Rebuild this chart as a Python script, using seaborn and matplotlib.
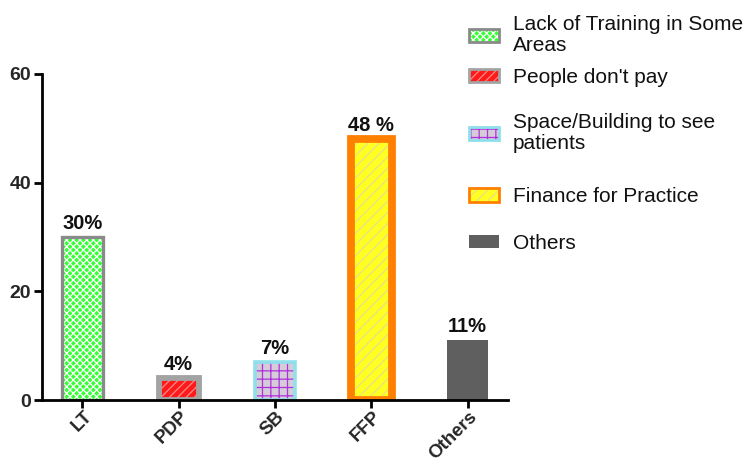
import matplotlib
matplotlib.use("Agg")
import matplotlib.pyplot as plt
from matplotlib.patches import Patch
from matplotlib.transforms import ScaledTranslation
import seaborn as sns
import pandas as pd

# Survey responses: main challenges to starting a practice
codes = ["LT", "PDP", "SB", "FFP", "Others"]
values = [30, 4, 7, 48, 11]
value_labels = ["30%", "4%", "7%", "48 %", "11%"]
legend_names = [
    "Lack of Training in Some\nAreas",
    "People don't pay",
    "Space/Building to see\npatients",
    "Finance for Practice",
    "Others",
]

fill_colors = ["#33ff33", "#ff1a1a", "#d4ccd6", "#ffff22", "#5f5f5f"]
hatch_colors = ["#ffffff", "#ff8a8a", "#b030e0", "#e6e08a", "#5f5f5f"]
hatches = ["xxxxx", "////", "++", "///", ""]
border_colors = ["#8a8a8a", "#a3a3a3", "#8fe0ea", "#ff8000", "#5f5f5f"]
border_widths = [2.4, 4.2, 2.6, 5.6, 0.0]

df = pd.DataFrame({"code": codes, "value": values})

sns.set_theme(style="ticks")
plt.rcParams["font.family"] = ["Liberation Sans", "DejaVu Sans"]
plt.rcParams["hatch.linewidth"] = 0.9

fig = plt.figure(figsize=(7.49, 4.62), dpi=100)
ax = fig.add_axes([0.0561, 0.134, 0.6222, 0.706])

# patterned fill layer
sns.barplot(data=df, x="code", y="value", hue="code", palette=fill_colors,
            saturation=1, width=0.42, linewidth=0, legend=False, ax=ax)
for bar, h, hc in zip(ax.patches, hatches, hatch_colors):
    bar.set_hatch(h)
    bar.set_edgecolor(hc)
    bar.set_linewidth(0)
n_fill = len(ax.patches)

# outline layer
sns.barplot(data=df, x="code", y="value", color="white", fill=False,
            saturation=1, width=0.42, legend=False, ax=ax)
for bar, bc, bw in zip(ax.patches[n_fill:], border_colors, border_widths):
    bar.set_facecolor("none")
    bar.set_edgecolor(bc)
    bar.set_linewidth(bw)
    if bw == 0:
        bar.set_visible(False)

# value labels above bars
for i, (v, lab) in enumerate(zip(values, value_labels)):
    ax.annotate(lab, (i, v), xytext=(0, 3), textcoords="offset points",
                ha="center", va="bottom", fontsize=14.5, fontweight="bold",
                color="#111111")

ax.set_xlim(-0.42, 4.42)
ax.set_ylim(0, 60)
ax.set_yticks([0, 20, 40, 60])
ax.set_xlabel("")
ax.set_ylabel("")
sns.despine(ax=ax)
for side in ("left", "bottom"):
    ax.spines[side].set_linewidth(2)
    ax.spines[side].set_color("black")
ax.tick_params(axis="both", width=2, length=6, color="black", pad=2)
ax.tick_params(axis="y", labelsize=14)
ax.tick_params(axis="x", labelsize=13.5, pad=4)
for t in ax.get_yticklabels():
    t.set_fontweight("bold")
shift = ScaledTranslation(7 / 100, 0, fig.dpi_scale_trans)
for t in ax.get_xticklabels():
    t.set_fontweight("bold")
    t.set_rotation(45)
    t.set_ha("right")
    t.set_va("center")
    t.set_rotation_mode("anchor")
    t.set_transform(t.get_transform() + shift)

# legend: one entry per box, placed down the right side
legend_y = [0.924, 0.833, 0.712, 0.574, 0.474]
for name, fc, hc, h, bc, bw, y in zip(legend_names, fill_colors, hatch_colors,
                                      hatches, border_colors, border_widths,
                                      legend_y):
    inner = Patch(facecolor=fc, edgecolor=hc, hatch=h, linewidth=0)
    outer = Patch(facecolor="none", edgecolor=bc, linewidth=min(bw, 2.0) if bw else 0)
    leg = fig.legend(handles=[(inner, outer)], labels=[name],
                     loc="center left", bbox_to_anchor=(0.6125, y),
                     frameon=False, fontsize=15, handlelength=1.45,
                     handleheight=0.6, handletextpad=0.65, borderpad=0)
    for t in leg.get_texts():
        t.set_color("#111111")
        t.set_linespacing(1.1)

fig.savefig("out.png", dpi=100)
